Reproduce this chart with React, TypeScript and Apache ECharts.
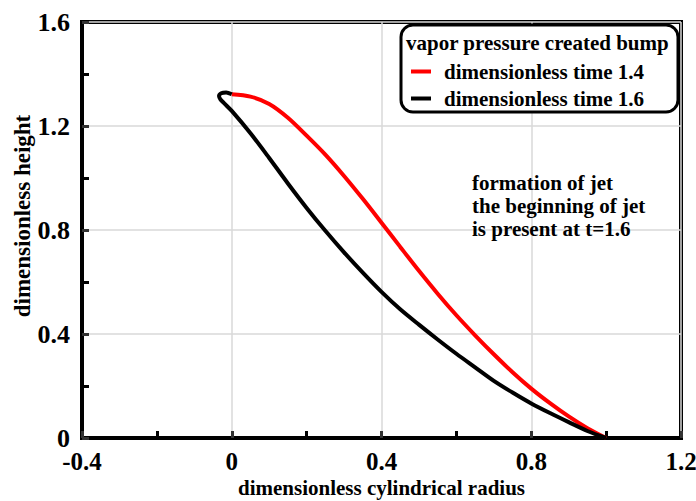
import React, { useEffect, useRef } from "react";
import * as echarts from "echarts";

const FONT = '"Liberation Serif", "Times New Roman", serif';

const xTicks = [-0.4, 0, 0.4, 0.8, 1.2];
const yTicks = [0, 0.4, 0.8, 1.2, 1.6];

const seriesNames = ["dimensionless time 1.4", "dimensionless time 1.6"];
const legendTitle = "vapor pressure created bump";
const annotation = ["formation of jet", "the beginning of jet", "is present at t=1.6"];
const xAxisName = "dimensionless cylindrical radius";
const yAxisName = "dimensionless height";

// dimensionless time 1.4 (red)
const redX = [0.0, 0.05, 0.1, 0.15, 0.2, 0.25, 0.3, 0.35, 0.4, 0.45, 0.5, 0.55, 0.6, 0.65, 0.7, 0.75, 0.8, 0.85, 0.9, 0.95, 1.0];
const redY = [1.322, 1.313, 1.285, 1.232, 1.163, 1.09, 1.008, 0.92, 0.828, 0.735, 0.643, 0.555, 0.472, 0.395, 0.322, 0.253, 0.19, 0.134, 0.083, 0.038, 0.0];

// dimensionless time 1.6 (black)
const blackX = [0.0, -0.015, -0.028, -0.034, -0.03, -0.02, 0.0, 0.05, 0.1, 0.15, 0.2, 0.25, 0.3, 0.35, 0.4, 0.45, 0.5, 0.55, 0.6, 0.65, 0.7, 0.75, 0.8, 0.85, 0.9, 0.95, 1.0];
const blackY = [1.322, 1.329, 1.326, 1.315, 1.302, 1.287, 1.258, 1.172, 1.077, 0.979, 0.885, 0.797, 0.714, 0.636, 0.562, 0.495, 0.436, 0.379, 0.324, 0.272, 0.22, 0.175, 0.133, 0.096, 0.061, 0.027, 0.0];

const zip = (xs: number[], ys: number[]) => xs.map((x, i) => [x, ys[i]]);

export default function App() {
  const ref = useRef<HTMLDivElement>(null);
  useEffect(() => {
    if (!ref.current) return;
    const chart = echarts.init(ref.current, undefined, { renderer: "svg" });
    const labelStyle = { fontFamily: FONT, fontWeight: "bold" as const, fontSize: 25, lineHeight: 25, color: "#000" };
    chart.setOption({
      animation: false,
      backgroundColor: "#fff",
      grid: {
        left: 82,
        right: 15,
        top: 22,
        bottom: 63,
        outerBoundsMode: "none",
        containLabel: false,
        show: true,
        borderColor: "#000",
        borderWidth: 4,
      },
      xAxis: {
        type: "value",
        min: xTicks[0],
        max: xTicks[xTicks.length - 1],
        interval: 0.4,
        axisLine: { show: true, onZero: false, lineStyle: { color: "#000", width: 4 } },
        axisTick: { show: true, inside: true, length: 7, lineStyle: { color: "#333", width: 3 } },
        minorTick: { show: true, splitNumber: 2, length: 7, lineStyle: { color: "#000", width: 3 } },
        splitLine: { show: true, lineStyle: { color: "#d9d9d9", width: 1.5 } },
        axisLabel: { ...labelStyle, margin: 11 },
        name: xAxisName,
        nameLocation: "middle",
        nameGap: 39,
        nameMoveOverlap: false,
        nameTextStyle: { fontFamily: FONT, fontWeight: "bold", fontSize: 21, lineHeight: 21, color: "#000" },
      },
      yAxis: {
        type: "value",
        min: yTicks[0],
        max: yTicks[yTicks.length - 1],
        interval: 0.4,
        axisLine: { show: true, onZero: false, lineStyle: { color: "#000", width: 4 } },
        axisTick: { show: true, inside: true, length: 7, lineStyle: { color: "#333", width: 3 } },
        minorTick: { show: true, splitNumber: 2, length: 7, lineStyle: { color: "#000", width: 3 } },
        splitLine: { show: true, lineStyle: { color: "#d9d9d9", width: 1.5 } },
        axisLabel: { ...labelStyle, fontSize: 26, lineHeight: 26, margin: 12 },
      },
      legend: {
        orient: "vertical",
        left: 406,
        top: 56,
        z: 6,
        icon: "rect",
        itemWidth: 20,
        itemHeight: 4,
        itemGap: 6,
        textStyle: { fontFamily: FONT, fontWeight: "bold", fontSize: 21, lineHeight: 21, color: "#000", padding: [0, 0, 0, 8] },
        data: seriesNames,
      },
      graphic: [
        {
          type: "rect",
          z: 3,
          shape: { x: 401, y: 25, width: 277, height: 87, r: 12 },
          style: { fill: "#fff", stroke: "#000", lineWidth: 3 },
        },
        {
          type: "text",
          z: 7,
          x: 406,
          y: 43,
          style: { text: legendTitle, fontFamily: FONT, fontWeight: "bold", fontSize: 21, fill: "#000", verticalAlign: "middle" },
        },
        {
          type: "text",
          z: 7,
          x: 472,
          y: 171,
          style: { text: annotation.join("\n"), fontFamily: FONT, fontWeight: "bold", fontSize: 21, lineHeight: 23, fill: "#000", verticalAlign: "top" },
        },
        {
          type: "text",
          z: 7,
          x: 22,
          y: 216,
          rotation: Math.PI / 2,
          style: { text: yAxisName, fontFamily: FONT, fontWeight: "bold", fontSize: 23, fill: "#000", align: "center", verticalAlign: "middle" },
        },
      ],
      series: [
        {
          name: seriesNames[0],
          type: "line",
          data: zip(redX, redY),
          showSymbol: false,
          smooth: 0.3,
          lineStyle: { color: "#ff0000", width: 4 },
          itemStyle: { color: "#ff0000" },
          z: 3,
        },
        {
          name: seriesNames[1],
          type: "line",
          data: zip(blackX, blackY),
          showSymbol: false,
          smooth: 0.3,
          lineStyle: { color: "#000", width: 4 },
          itemStyle: { color: "#000" },
          z: 3,
        },
      ],
    });
    return () => chart.dispose();
  }, []);
  return <div ref={ref} style={{ position: "fixed", left: 0, top: 0, width: 696, height: 501 }} />;
}
